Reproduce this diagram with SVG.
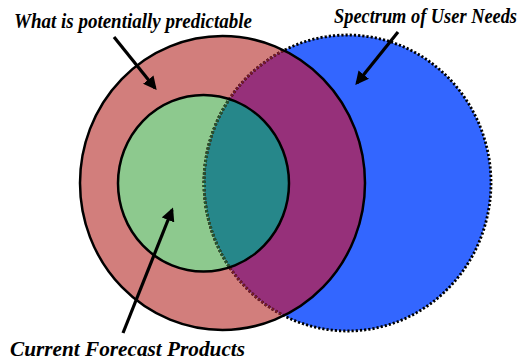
<svg xmlns="http://www.w3.org/2000/svg" width="532" height="360" viewBox="0 0 532 360">
<style>
.lbl{font-family:"Liberation Serif","Times New Roman",serif;font-weight:bold;font-style:italic;font-size:20px;fill:#000}
.solid{fill:none;stroke:#000;stroke-width:2.5}
.dots{fill:none;stroke-width:2.8;stroke-dasharray:2.2 2}
.arrow{stroke:#000;stroke-width:3.2;fill:none}
</style>
<defs>
<clipPath id="cRed"><ellipse cx="222.5" cy="183" rx="142.5" ry="147"/></clipPath>
<clipPath id="cGreen"><ellipse cx="203.5" cy="183.3" rx="85.5" ry="88.3"/></clipPath>
<marker id="ah" viewBox="0 0 10 10" refX="8" refY="5" markerWidth="4.2" markerHeight="4.2" orient="auto" markerUnits="strokeWidth">
<path d="M0,0 L10,5 L0,10 Z" fill="#000"/>
</marker>
</defs>
<g id="venn">
<g id="predictable">
<ellipse cx="222.5" cy="183" rx="142.5" ry="147" fill="#D27E7C"/>
</g>
<g id="user-needs">
<ellipse cx="347.5" cy="183" rx="143.5" ry="148" fill="#3366FF"/>
<ellipse cx="347.5" cy="183" rx="143.5" ry="148" fill="#96307A" clip-path="url(#cRed)"/>
</g>
<g id="forecast-products">
<ellipse cx="203.5" cy="183.3" rx="85.5" ry="88.3" fill="#8DC98E"/>
<ellipse cx="347.5" cy="183" rx="143.5" ry="148" fill="#26878A" clip-path="url(#cGreen)"/>
</g>
<g id="borders">
<ellipse class="dots" cx="347.5" cy="183" rx="143.5" ry="148" stroke="#000"/>
<ellipse class="dots" cx="347.5" cy="183" rx="143.5" ry="148" stroke="#7A1A28" clip-path="url(#cRed)"/>
<ellipse class="dots" cx="347.5" cy="183" rx="143.5" ry="148" stroke="#1E5A2E" clip-path="url(#cGreen)"/>
<ellipse class="solid" cx="222.5" cy="183" rx="142.5" ry="147"/>
<ellipse class="solid" cx="203.5" cy="183.3" rx="85.5" ry="88.3"/>
</g>
</g>
<g id="connectors">
<line class="arrow" x1="114" y1="37" x2="155" y2="88" marker-end="url(#ah)"/>
<line class="arrow" x1="398" y1="32" x2="357" y2="83" marker-end="url(#ah)"/>
<line class="arrow" x1="123" y1="333" x2="172" y2="210" marker-end="url(#ah)"/>
</g>
<g id="labels">
<text class="lbl" x="14" y="28" textLength="238" lengthAdjust="spacingAndGlyphs">What is potentially predictable</text>
<text class="lbl" x="334" y="23" textLength="183" lengthAdjust="spacingAndGlyphs">Spectrum of User Needs</text>
<text class="lbl" x="10" y="356" textLength="235" lengthAdjust="spacingAndGlyphs">Current Forecast Products</text>
</g>
</svg>
